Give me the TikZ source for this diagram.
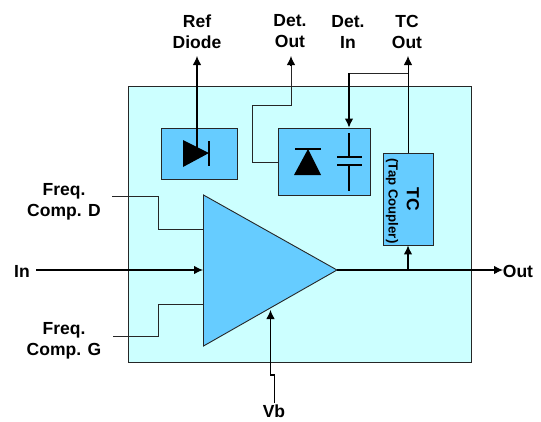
\documentclass[tikz,border=0pt]{standalone}
\usepackage{fontspec}
\setmainfont{Liberation Sans}
\usetikzlibrary{arrows.meta}
\definecolor{chipcyan}{HTML}{CCFFFF}
\definecolor{partblue}{HTML}{66CCFF}
\tikzset{
  partbox/.style={draw=black!85,fill=partblue,line width=0.9pt,inner sep=0pt},
  pinlabel/.style={font=\fontsize{17.5}{21}\selectfont\bfseries,align=center,inner sep=0pt},
  thinwire/.style={line width=0.8pt,draw=black!85},
  sigwire/.style={-{Latex[length=9pt,width=8.5pt]},line width=1.1pt},
  symline/.style={line width=1.3pt}
}
\begin{document}
\begin{tikzpicture}[x=1pt,y=-1pt,>=Latex]
  \useasboundingbox (0,0) rectangle (541,421);
  % Chip outline and parts
  \node[draw=black!85,fill=chipcyan,line width=0.9pt,minimum width=343pt,minimum height=276pt,inner sep=0pt] (chip) at (299.5,224) {};
  \node[partbox,minimum width=76pt,minimum height=51pt] (refbox) at (199,153.5) {};
  \node[partbox,minimum width=92pt,minimum height=67pt] (detbox) at (324,161.5) {};
  \node[partbox,minimum width=50pt,minimum height=92pt] (tcbox) at (408,199) {};
  \node[rotate=-90,font=\fontsize{17.5}{18}\selectfont\bfseries,inner sep=0pt] (tcname) at (413,199) {TC};
  \node[rotate=-90,font=\fontsize{13.2}{15}\selectfont\bfseries,inner sep=0pt] (tcnote) at (392,201) {(Tap Coupler)};
  % Amplifier
  \coordinate (amptop) at (203.5,195);
  \coordinate (ampbot) at (203.5,346);
  \coordinate (amptip) at (337,270);
  \draw[partbox] (amptop) -- (amptip) -- (ampbot) -- cycle;
  % Labels
  \node[pinlabel] (reflabel) at (197,31.5) {Ref\\Diode};
  \node[pinlabel] (detoutlabel) at (290,31.5) {Det.\\Out};
  \node[pinlabel] (detinlabel) at (348,31.5) {Det.\\In};
  \node[pinlabel] (tcoutlabel) at (407,31.5) {TC\\Out};
  \node[pinlabel] (fdlabel) at (64,201.5) {Freq.\\Comp. D};
  \node[pinlabel] (fglabel) at (64,340.5) {Freq.\\Comp. G};
  \node[pinlabel] (inlabel) at (22,271) {In};
  \node[pinlabel] (outlabel) at (518,271) {Out};
  \node[pinlabel] (vblabel) at (274,411) {Vb};
  % Ref diode
  \coordinate (refmid) at (197,153);
  \fill (183,140) -- (209,153) -- (183,167) -- cycle;
  \draw[symline] (209,141) -- (209,166);
  \draw[sigwire] (refmid) -- (197,56);
  % Det diode and capacitor
  \fill (308,149) -- (321,175) -- (294,175) -- cycle;
  \draw[symline] (295,149) -- (321,149);
  \draw[symline] (349,133) -- (349,157) (337,157) -- (362,157) (337,165) -- (362,165) (349,165) -- (349,191);
  % Top wires
  \coordinate (detoutpin) at (291,56);
  \coordinate (tcoutpin) at (408,56);
  \coordinate (tcsplit) at (408,73);
  \draw[thinwire] (detbox.west |- 0,162) -- (252,162) -- (252,105) -- (291,105) -- (291,64);
  \draw[sigwire] (291,66) -- (detoutpin);
  \draw[sigwire,line width=0.9pt] (tcbox.north) -- (tcoutpin);
  \draw[thinwire] (tcsplit) -- (349,73);
  \draw[sigwire] (349,73) -- (detbox.north -| 349,0);
  % Side wires
  \coordinate (fdpin) at (112,196);
  \coordinate (fgpin) at (113,336);
  \coordinate (inpin) at (36,270);
  \coordinate (vbpin) at (274.5,403);
  \draw[thinwire] (fdpin) -- (158,196) -- (158,229) -- (203.5,229);
  \draw[thinwire] (fgpin) -- (158,336) -- (158,304) -- (203.5,304);
  \draw[sigwire] (inpin) -- (203,270);
  \draw[sigwire] (vbpin) -- (274.5,375) -- (270.5,375) -- (270.5,310);
  % Output
  \coordinate (outpin) at (503,270);
  \draw[sigwire] (amptip) -- (outpin);
  \draw[sigwire] (408,270) -- (tcbox.south);
\end{tikzpicture}
\end{document}
